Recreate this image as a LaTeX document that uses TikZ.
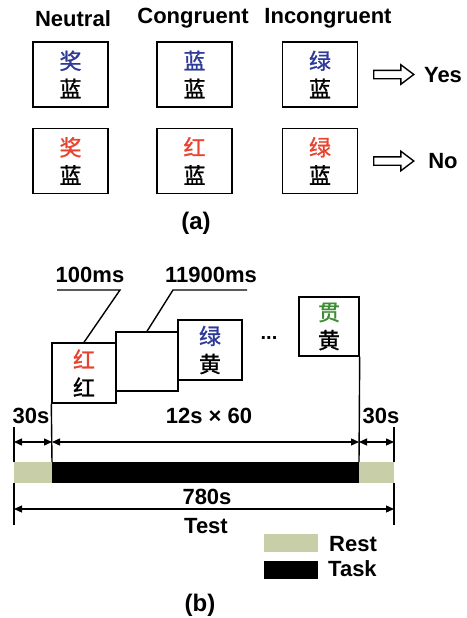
\documentclass[tikz,border=0pt]{standalone}
\usepackage{fontspec}
\setmainfont{Liberation Sans}
\newfontfamily\cjk{Noto Sans CJK SC}[FakeBold=1.2]
\usetikzlibrary{arrows.meta,shapes.arrows}
\definecolor{cblue}{RGB}{46,58,152}
\definecolor{cred}{RGB}{232,67,46}
\definecolor{cgreen}{RGB}{60,140,50}
\definecolor{restc}{RGB}{200,207,168}
\begin{document}
\begin{tikzpicture}[x=1pt,y=-1pt,
  lbl/.style={font=\bfseries\fontsize{22}{24}\selectfont, inner sep=0pt},
  stim/.style={draw, line width=1.8pt, minimum width=75pt, minimum height=65pt,
    align=center, inner sep=0pt, font=\cjk\fontsize{22}{28}\selectfont},
  trial/.style={draw, fill=white, line width=1.4pt, align=center, inner sep=0pt,
    font=\cjk\fontsize{22}{28}\selectfont},
  hollow/.style={single arrow, draw, line width=1.4pt, minimum height=40pt,
    inner sep=3.5pt, single arrow head extend=5.5pt, single arrow tip angle=74},
  leader/.style={line width=1.4pt},
  dim/.style={line width=1.3pt, {Triangle[length=8pt,width=7pt]}-{Triangle[length=8pt,width=7pt]}},
  tick/.style={line width=1.4pt}
]
\useasboundingbox (0,0) rectangle (466,618);

% ---- (a) stimulus examples ----
\node[lbl] (hn) at (73,19) {Neutral};
\node[lbl] (hc) at (193,18) {Congruent};
\node[lbl] (hi) at (328,18) {Incongruent};

\node[stim] (n1) at (70.5,74.5) {\textcolor{cblue}{奖}\\蓝};
\node[stim] (c1) at (194.5,74.5) {\textcolor{cblue}{蓝}\\蓝};
\node[stim] (i1) at (320,74.5) {\textcolor{cblue}{绿}\\蓝};
\node[stim] (n2) at (70.5,161) {\textcolor{cred}{奖}\\蓝};
\node[stim] (c2) at (194.5,161) {\textcolor{cred}{红}\\蓝};
\node[stim] (i2) at (320,161) {\textcolor{cred}{绿}\\蓝};

\node[hollow] (ar1) at (391,74.5) {};
\node[hollow] (ar2) at (391,161) {};
\node[lbl] (yes) at (443,75) {Yes};
\node[lbl] (no) at (443,161) {No};

\node[lbl, font=\bfseries\fontsize{24}{26}\selectfont] (capa) at (196,223) {(a)};

% ---- (b) trial sequence ----
\node[lbl] (t100) at (90,275) {100ms};
\node[lbl] (t119) at (211,275) {11900ms};

\node[trial, minimum width=62pt, minimum height=59pt] (b2) at (147,361.5) {};
\node[trial, minimum width=64pt, minimum height=60pt] (b1) at (84,373)
  {\textcolor{cred}{红}\\红};
\node[trial, minimum width=64pt, minimum height=60pt] (b3) at (210,350)
  {\textcolor{cblue}{绿}\\黄};
\node[lbl, font=\bfseries\fontsize{20}{22}\selectfont, anchor=base] (dots) at (269,339) {...};
\node[trial, minimum width=60pt, minimum height=59pt] (b4) at (329,326.5)
  {\textcolor{cgreen}{贯}\\黄};

\coordinate (k1) at (57,290);
\coordinate (k2) at (120,290);
\coordinate (k3) at (173,290);
\coordinate (k4) at (247,290);
\draw[leader] (k1) -- (k2) -- (b1.north);
\draw[leader] (k4) -- (k3) -- (b2.north);

% ---- timeline ----
\coordinate (ta) at (14,462);
\coordinate (tb) at (52,462);
\coordinate (tc) at (359,462);
\coordinate (td) at (394,462);
\fill[restc] (14,462) rectangle (52,483);
\fill[black] (52,462) rectangle (359,483);
\fill[restc] (359,462) rectangle (394,483);

\coordinate (la) at (14,427);
\coordinate (ld) at (394,427);
\coordinate (ba) at (14,483);
\coordinate (bd) at (394,483);
\coordinate (ea) at (14,525);
\coordinate (ed) at (394,525);
\draw[tick] (la) -- (ta);
\draw[tick] (ld) -- (td);
\draw[tick] (ba) -- (ea);
\draw[tick] (bd) -- (ed);
\draw[tick] (b1.south west) -- (tb);
\draw[tick] (b4.south east) -- (tc);

\coordinate (da) at (14,442);
\coordinate (db) at (52,442);
\coordinate (dc) at (359,442);
\coordinate (dd) at (394,442);
\draw[dim] (da) -- (db);
\draw[dim] (db) -- (dc);
\draw[dim] (dc) -- (dd);

\coordinate (fa) at (14,509);
\coordinate (fd) at (394,509);
\draw[dim] (fa) -- (fd);

\node[lbl] (s30a) at (31,416) {30s};
\node[lbl] (s12) at (209,416) {12s × 60};
\node[lbl] (s30b) at (381,416) {30s};
\node[lbl] (s780) at (207,497) {780s};
\node[lbl] (test) at (206,526) {Test};

% ---- legend ----
\node[fill=restc, minimum width=54pt, minimum height=18pt, inner sep=0pt] (kr) at (291,543) {};
\node[fill=black, minimum width=54pt, minimum height=18pt, inner sep=0pt] (kt) at (291,570) {};
\node[lbl, anchor=west] (rest) at (329,544) {Rest};
\node[lbl, anchor=west] (task) at (328,569) {Task};

\node[lbl, font=\bfseries\fontsize{24}{26}\selectfont] (capb) at (200,605) {(b)};
\end{tikzpicture}
\end{document}
